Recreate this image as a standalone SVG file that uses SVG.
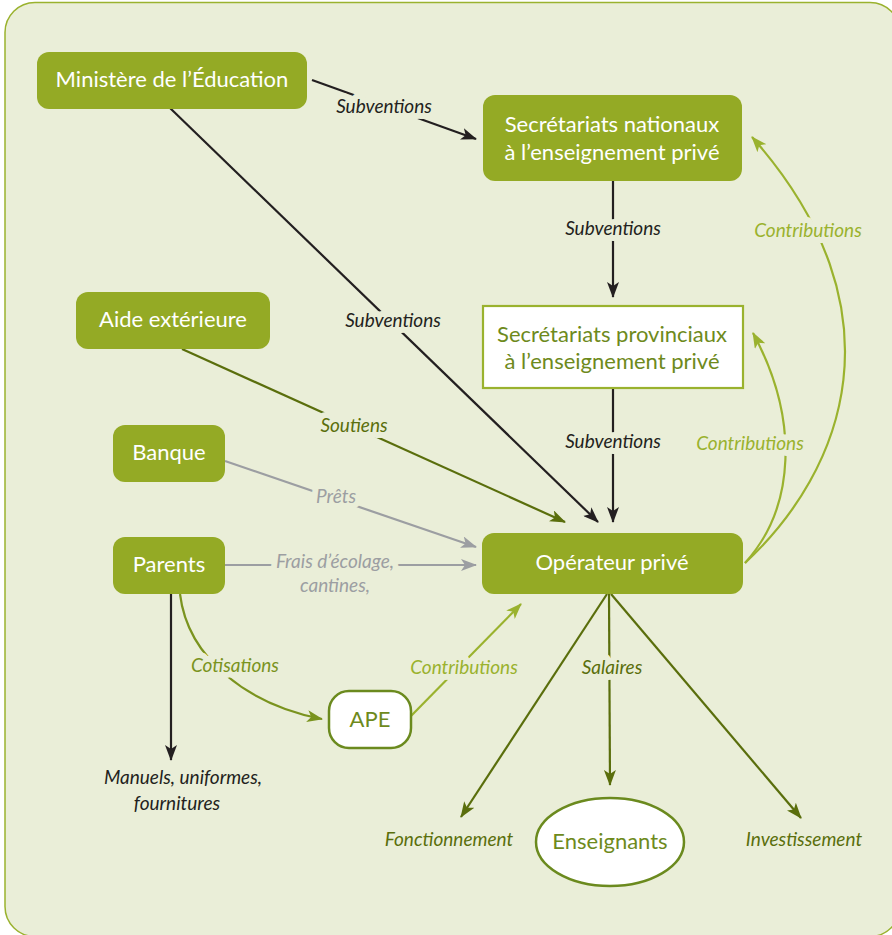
<svg xmlns="http://www.w3.org/2000/svg" width="892" height="935" viewBox="0 0 892 935">
<style>
.node{fill:#94aa25;}
.nt{font-family:Lato,"Open Sans",sans-serif;font-size:22px;fill:#ffffff;text-anchor:middle;}
.gt{font-family:Lato,"Open Sans",sans-serif;font-size:22px;fill:#6e8a1c;text-anchor:middle;}
.lb{font-family:Lato,"Open Sans",sans-serif;font-style:italic;font-size:19px;text-anchor:middle;stroke:#eaeed8;stroke-width:12px;paint-order:stroke;stroke-linejoin:round;}
.ln{fill:none;stroke-width:2.2px;}
.k{stroke:#231f20;}
.o{stroke:#5a6e0c;}
.g{stroke:#9ab22e;}
.m{stroke:#7a931e;}
.y{stroke:#9c9ea2;}
</style>
<defs>
<marker id="ak" viewBox="0 0 16 12" refX="15" refY="6" markerWidth="16" markerHeight="12" markerUnits="userSpaceOnUse" orient="auto"><path d="M0,0 L16,6 L0,12 L4,6 Z" fill="#231f20"/></marker>
<marker id="ao" viewBox="0 0 16 12" refX="15" refY="6" markerWidth="16" markerHeight="12" markerUnits="userSpaceOnUse" orient="auto"><path d="M0,0 L16,6 L0,12 L4,6 Z" fill="#5a6e0c"/></marker>
<marker id="ag" viewBox="0 0 16 12" refX="15" refY="6" markerWidth="16" markerHeight="12" markerUnits="userSpaceOnUse" orient="auto"><path d="M0,0 L16,6 L0,12 L4,6 Z" fill="#9ab22e"/></marker>
<marker id="am" viewBox="0 0 16 12" refX="15" refY="6" markerWidth="16" markerHeight="12" markerUnits="userSpaceOnUse" orient="auto"><path d="M0,0 L16,6 L0,12 L4,6 Z" fill="#7a931e"/></marker>
<marker id="ay" viewBox="0 0 16 12" refX="15" refY="6" markerWidth="16" markerHeight="12" markerUnits="userSpaceOnUse" orient="auto"><path d="M0,0 L16,6 L0,12 L4,6 Z" fill="#9c9ea2"/></marker>
</defs>
<rect x="0" y="0" width="892" height="935" fill="#ffffff"/>
<rect x="5" y="2.5" width="895" height="934" rx="30" fill="#eaeed8" stroke="#9ab22e" stroke-width="1.5"/>
<g id="connectors">
<path class="ln k" d="M312,80 L476,139" marker-end="url(#ak)"/>
<path class="ln k" d="M170,108 L598,522" marker-end="url(#ak)"/>
<path class="ln k" d="M613,181 L613,297" marker-end="url(#ak)"/>
<path class="ln k" d="M613,388 L613,522" marker-end="url(#ak)"/>
<path class="ln o" d="M182,349 L565,522" marker-end="url(#ao)"/>
<path class="ln y" d="M225,461 L476,547" marker-end="url(#ay)"/>
<path class="ln y" d="M225,565 L476,565" marker-end="url(#ay)"/>
<path class="ln k" d="M171,594 L171,760" marker-end="url(#ak)"/>
<path class="ln m" d="M180,594 C188,660 250,705 322,719" marker-end="url(#am)"/>
<path class="ln g" d="M411,716 L521,604" marker-end="url(#ag)"/>
<path class="ln g" d="M745,563 C795,508 800,420 753,333" marker-end="url(#ag)"/>
<path class="ln g" d="M745,563 C845,470 905,310 752,137" marker-end="url(#ag)"/>
<path class="ln o" d="M607,594 L461,817" marker-end="url(#ao)"/>
<path class="ln o" d="M609,594 L610,785" marker-end="url(#ao)"/>
<path class="ln o" d="M611,594 L801,818" marker-end="url(#ao)"/>
<text class="lb" x="384" y="113" fill="#231f20">Subventions</text>
<text class="lb" x="393" y="327" fill="#231f20">Subventions</text>
<text class="lb" x="613" y="235" fill="#231f20">Subventions</text>
<text class="lb" x="613" y="448" fill="#231f20">Subventions</text>
<text class="lb" x="354" y="432" fill="#5a6e0c">Soutiens</text>
<text class="lb" x="336" y="503" fill="#9c9ea2">Prêts</text>
<text class="lb" x="335" y="568" fill="#9c9ea2">Frais d’écolage,</text>
<text class="lb" x="335" y="592" fill="#9c9ea2">cantines,</text>
<text class="lb" x="235" y="672" fill="#7a931e">Cotisations</text>
<text class="lb" x="464" y="674" fill="#9ab22e">Contributions</text>
<text class="lb" x="750" y="450" fill="#9ab22e">Contributions</text>
<text class="lb" x="808" y="237" fill="#9ab22e">Contributions</text>
<text class="lb" x="612" y="674" fill="#5a6e0c">Salaires</text>
</g>
<g id="ministere"><rect class="node" x="37" y="52" width="270" height="57" rx="12"/><text class="nt" x="172" y="87">Ministère de l’Éducation</text></g>
<g id="sec-nat"><rect class="node" x="483" y="95" width="259" height="86" rx="12"/><text class="nt" x="612" y="132">Secrétariats nationaux</text><text class="nt" x="612" y="160">à l’enseignement privé</text></g>
<g id="sec-prov"><rect x="483" y="306" width="260" height="82" fill="#ffffff" stroke="#9ab22e" stroke-width="2.2"/><text class="gt" x="612" y="342">Secrétariats provinciaux</text><text class="gt" x="612" y="369">à l’enseignement privé</text></g>
<g id="aide"><rect class="node" x="76" y="292" width="194" height="57" rx="12"/><text class="nt" x="173" y="327">Aide extérieure</text></g>
<g id="banque"><rect class="node" x="113" y="425" width="112" height="57" rx="12"/><text class="nt" x="169" y="460">Banque</text></g>
<g id="parents"><rect class="node" x="113" y="537" width="112" height="57" rx="12"/><text class="nt" x="169" y="572">Parents</text></g>
<g id="operateur"><rect class="node" x="482" y="533" width="261" height="61" rx="12"/><text class="nt" x="612" y="570">Opérateur privé</text></g>
<g id="ape"><rect x="329" y="691" width="82" height="57" rx="20" fill="#ffffff" stroke="#6b8a1e" stroke-width="2.5"/><text class="gt" x="370" y="727">APE</text></g>
<g id="enseignants"><ellipse cx="610" cy="842" rx="74" ry="44" fill="#ffffff" stroke="#6b8a1e" stroke-width="2.5"/><text class="gt" x="610" y="849">Enseignants</text></g>
<g id="manuels"><text class="lb" x="183" y="784" fill="#231f20">Manuels, uniformes,</text><text class="lb" x="177" y="810" fill="#231f20">fournitures</text></g>
<g id="fonctionnement"><text class="lb" x="449" y="846" fill="#5a6e0c">Fonctionnement</text></g>
<g id="investissement"><text class="lb" x="804" y="846" fill="#5a6e0c">Investissement</text></g>
</svg>
